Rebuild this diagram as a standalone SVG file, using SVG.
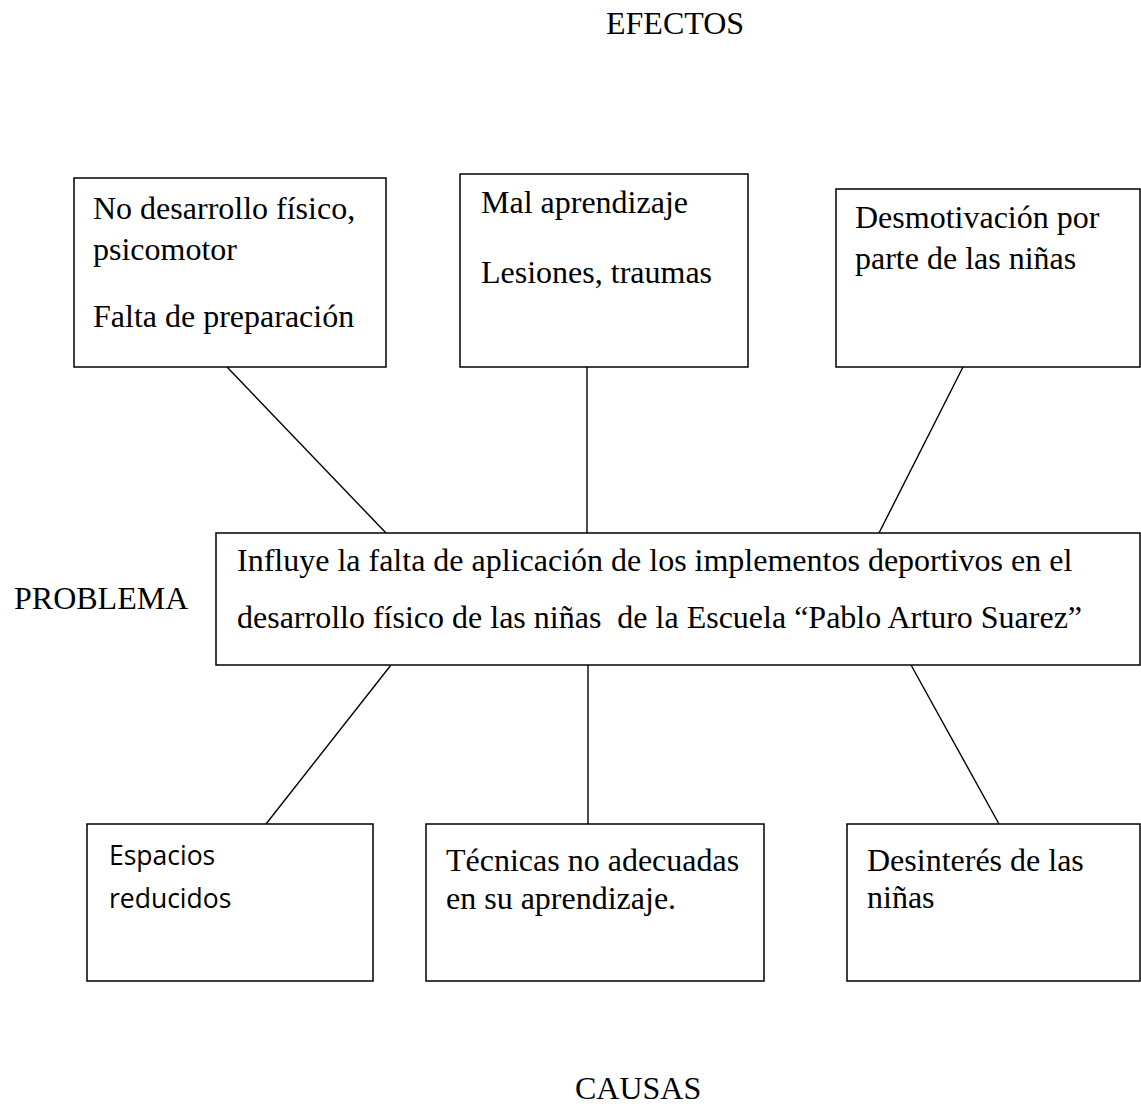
<svg xmlns="http://www.w3.org/2000/svg" width="1141" height="1104" viewBox="0 0 1141 1104">
<style>
.box{fill:#fff;stroke:#000;stroke-width:1.5}
.ln{stroke:#000;stroke-width:1.4;fill:none}
.t{font-family:"Liberation Serif","Times New Roman",serif;font-size:32px;fill:#000}
.s{font-family:"Open Sans","Liberation Sans",sans-serif;font-size:26.5px;fill:#000}
</style>
<rect width="1141" height="1104" fill="#fff"/>
<g id="labels">
<text class="t" x="606" y="34">EFECTOS</text>
<text class="t" x="14" y="609">PROBLEMA</text>
<text class="t" x="575" y="1099">CAUSAS</text>
</g>
<g id="connectors">
<line class="ln" x1="227" y1="367" x2="386" y2="533"/>
<line class="ln" x1="587" y1="367" x2="587" y2="533"/>
<line class="ln" x1="963" y1="367" x2="879" y2="533"/>
<line class="ln" x1="391" y1="665" x2="266" y2="824"/>
<line class="ln" x1="588" y1="665" x2="588" y2="824"/>
<line class="ln" x1="911" y1="665" x2="999" y2="824"/>
</g>
<g id="efecto1">
<rect class="box" x="74" y="178" width="312" height="189"/>
<text class="t" x="93" y="219">No desarrollo físico,</text>
<text class="t" x="93" y="260">psicomotor</text>
<text class="t" x="93" y="327">Falta de preparación</text>
</g>
<g id="efecto2">
<rect class="box" x="460" y="174" width="288" height="193"/>
<text class="t" x="481" y="213">Mal aprendizaje</text>
<text class="t" x="481" y="283">Lesiones, traumas</text>
</g>
<g id="efecto3">
<rect class="box" x="836" y="189" width="304" height="178"/>
<text class="t" x="855" y="228">Desmotivación por</text>
<text class="t" x="855" y="269">parte de las niñas</text>
</g>
<g id="problema">
<rect class="box" x="216" y="533" width="924" height="132"/>
<text class="t" x="237" y="571">Influye la falta de aplicación de los implementos deportivos en el</text>
<text class="t" x="237" y="628" xml:space="preserve">desarrollo físico de las niñas  de la Escuela “Pablo Arturo Suarez”</text>
</g>
<g id="causa1">
<rect class="box" x="87" y="824" width="286" height="157"/>
<text class="s" x="109" y="865">Espacios</text>
<text class="s" x="109" y="908">reducidos</text>
</g>
<g id="causa2">
<rect class="box" x="426" y="824" width="338" height="157"/>
<text class="t" x="446" y="871">Técnicas no adecuadas</text>
<text class="t" x="446" y="909">en su aprendizaje.</text>
</g>
<g id="causa3">
<rect class="box" x="847" y="824" width="293" height="157"/>
<text class="t" x="867" y="871">Desinterés de las</text>
<text class="t" x="867" y="908">niñas</text>
</g>
</svg>
